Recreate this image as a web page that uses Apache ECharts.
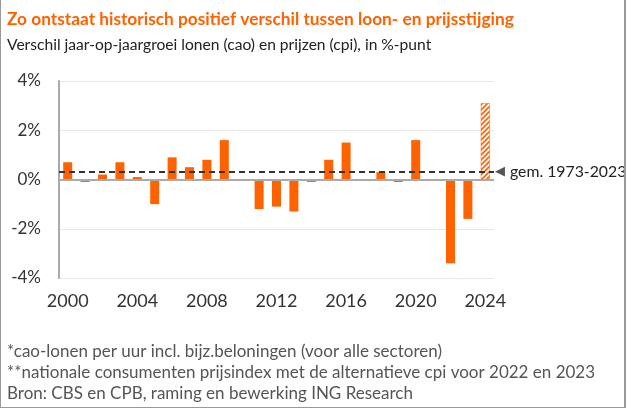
<!DOCTYPE html>
<html><head><meta charset="utf-8">
<script src="https://cdn.jsdelivr.net/npm/echarts@6/dist/echarts.min.js"></script>
<style>
html,body{margin:0;padding:0;background:#fff;}
#c{width:626px;height:408px;box-sizing:border-box;border-left:1px solid #999;border-right:2px solid #999;border-bottom:1px solid #999;}
</style></head>
<body><div id="c"></div>
<script>
const years = ['2000','2001','2002','2003','2004','2005','2006','2007','2008','2009','2010','2011','2012','2013','2014','2015','2016','2017','2018','2019','2020','2021','2022','2023','2024'];
const diff = [0.7,-0.1,0.2,0.7,0.1,-1.0,0.9,0.5,0.8,1.6,0,-1.2,-1.1,-1.3,-0.1,0.8,1.5,0,0.3,-0.1,1.6,0,-3.4,-1.6,3.1];
const forecastYears = ['2024'];
const avg1973_2023 = 0.3;
const yTicks = [-4,-2,0,2,4];

const ORANGE = '#FF6200';
const FONT = 'Lato';

// hatch pattern for forecast bar
const pc = document.createElement('canvas');
pc.width = 5; pc.height = 5;
const pctx = pc.getContext('2d');
pctx.fillStyle = '#fff'; pctx.fillRect(0,0,5,5);
pctx.strokeStyle = ORANGE; pctx.lineWidth = 1.6;
pctx.beginPath();
pctx.moveTo(0,5); pctx.lineTo(5,0);
pctx.moveTo(-1,1); pctx.lineTo(1,-1);
pctx.moveTo(4,6); pctx.lineTo(6,4);
pctx.stroke();

const barData = diff.map((v,i)=> forecastYears.includes(years[i])
  ? {value:v, itemStyle:{color:{image:pc, repeat:'repeat'}, borderColor:ORANGE, borderWidth:0.5}}
  : {value:v});

const chart = echarts.init(document.getElementById('c'), null, {renderer:'canvas'});
chart.setOption({
  animation:false,
  title:[
    {text:'Zo ontstaat historisch positief verschil tussen loon- en prijsstijging', left:1, top:6,
     textStyle:{color:ORANGE, fontFamily:FONT, fontWeight:'bold', fontSize:17.3}},
    {text:'Verschil jaar-op-jaargroei lonen (cao) en prijzen (cpi), in %-punt', left:1, top:32,
     textStyle:{color:'#222', fontFamily:FONT, fontWeight:'normal', fontSize:15.6}},
    {text:'*cao-lonen per uur incl. bijz.beloningen (voor alle sectoren)\n**nationale consumenten prijsindex met de alternatieve cpi voor 2022 en 2023\nBron: CBS en CPB, raming en bewerking ING Research',
     left:1, top:336,
     textStyle:{color:'#555', fontFamily:FONT, fontWeight:'normal', fontSize:17, lineHeight:21}}
  ],
  grid:{left:58, right:130, top:81, bottom:129, containLabel:false},
  xAxis:{
    type:'category', data:years, boundaryGap:true,
    axisLine:{show:false}, axisTick:{show:false},
    axisLabel:{interval:3, color:'#333', fontFamily:FONT, fontSize:18, margin:14}
  },
  yAxis:{
    type:'value', min:-4, max:4, interval:2,
    axisLine:{show:true, lineStyle:{color:'#aaa', width:2}},
    axisTick:{show:false},
    splitLine:{show:true, lineStyle:{color:'#e8e8e8', width:1}},
    axisLabel:{color:'#333', fontFamily:FONT, fontSize:17, margin:18,
      formatter:v=> yTicks.includes(v) ? v+'%' : ''}
  },
  series:[{
    type:'bar', data:barData, barWidth:9,
    itemStyle:{color:ORANGE},
    markLine:{
      silent:true, symbol:['none','none'],
      data:[
        {yAxis:0, lineStyle:{color:'#aaa', type:'solid', width:2}, label:{show:false}},
        {yAxis:avg1973_2023, lineStyle:{color:'#333', type:[6,4], width:2},
         label:{show:true, position:'end', distance:1,
           formatter:'{t|◀}{x|gem. 1973-2023}',
           rich:{t:{color:'#555', fontSize:13, fontFamily:'DejaVu Sans', padding:[0,5,0,0]},
                 x:{color:'#222', fontFamily:FONT, fontSize:15.8}}}}
      ]
    }
  }]
});
</script></body></html>
